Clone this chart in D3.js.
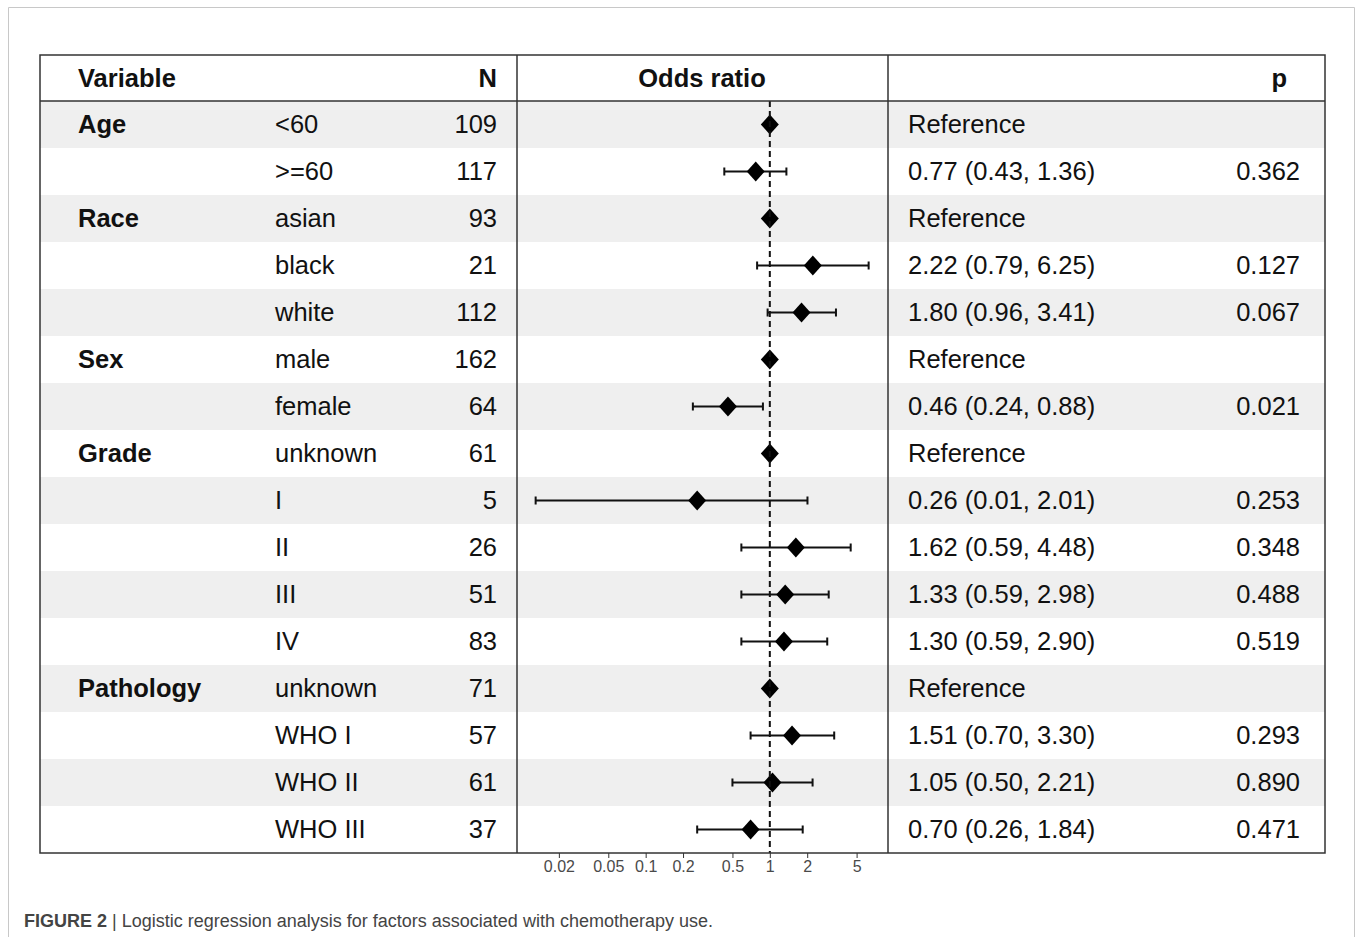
<!DOCTYPE html>
<meta charset="utf-8">
<head>
<title>Logistic regression forest plot</title>
<style>
  body { margin: 0; background: #fff; }
  svg { display: block; font-family: "Liberation Sans", Arial, Helvetica, sans-serif; }
  .cell { font-size: 25.5px; fill: #111; }
  .head { font-size: 25.5px; font-weight: bold; fill: #111; }
  .tick text { font-size: 16px; fill: #4a4a4a; }
</style>
</head>
<body>
<script src="https://cdn.jsdelivr.net/npm/d3@7"></script>
<script>

// table data, one entry per row
var variable = ["Age", "", "Race", "", "", "Sex", "", "Grade", "", "", "", "", "Pathology", "", "", ""];
var level = ["<60", ">=60", "asian", "black", "white", "male", "female", "unknown", "I", "II", "III", "IV", "unknown", "WHO I", "WHO II", "WHO III"];
var nObs = [109, 117, 93, 21, 112, 162, 64, 61, 5, 26, 51, 83, 71, 57, 61, 37];
var oddsRatio = [1, 0.77, 1, 2.22, 1.80, 1, 0.46, 1, 0.26, 1.62, 1.33, 1.30, 1, 1.51, 1.05, 0.70];
var ciLow = [null, 0.43, null, 0.79, 0.96, null, 0.24, null, 0.013, 0.59, 0.59, 0.59, null, 0.70, 0.50, 0.26];
var ciHigh = [null, 1.36, null, 6.25, 3.41, null, 0.88, null, 2.01, 4.48, 2.98, 2.90, null, 3.30, 2.21, 1.84];
var pValue = [null, "0.362", null, "0.127", "0.067", null, "0.021", null, "0.253", "0.348", "0.488", "0.519", null, "0.293", "0.890", "0.471"];
var tickValues = [0.02, 0.05, 0.1, 0.2, 0.5, 1, 2, 5];

var W = 1357, H = 937;
var box = {left: 40, right: 1325, top: 55, head: 101, bottom: 853};
var plotL = 517, plotR = 888;

var svg = d3.select("body").append("svg")
    .attr("width", W).attr("height", H);

// page frame
svg.append("path")
    .attr("d", "M8.5," + H + "V7.5H1354.5V" + H)
    .attr("fill", "none").attr("stroke", "#c8c8c8").attr("stroke-width", 1);

var rows = d3.range(level.length);
var y = d3.scaleBand().domain(rows).range([box.head, box.bottom]);
var x = d3.scaleLog().domain([0.0092, 8.95]).range([plotL, plotR]);

// zebra shading
svg.selectAll("rect.band")
    .data(rows.filter(function(i) { return i % 2 == 0; }))
  .enter().append("rect")
    .attr("class", "band")
    .attr("x", box.left).attr("width", box.right - box.left)
    .attr("y", function(i) { return y(i); })
    .attr("height", y.bandwidth())
    .attr("fill", "#efefef");

// header
var head = svg.append("g").attr("class", "head");
head.append("text").attr("x", 78).attr("y", 78).attr("dy", "0.35em").text("Variable");
head.append("text").attr("x", 497).attr("y", 78).attr("dy", "0.35em").attr("text-anchor", "end").text("N");
head.append("text").attr("x", 702).attr("y", 78).attr("dy", "0.35em").attr("text-anchor", "middle").text("Odds ratio");
head.append("text").attr("x", 1287).attr("y", 78).attr("dy", "0.35em").attr("text-anchor", "end").text("p");

// text columns
var row = svg.selectAll("g.row")
    .data(rows)
  .enter().append("g")
    .attr("class", "row")
    .attr("transform", function(i) { return "translate(0," + (y(i) + y.bandwidth() / 2) + ")"; });

row.append("text").attr("class", "head").attr("x", 78).attr("dy", "0.35em")
    .text(function(i) { return variable[i]; });
row.append("text").attr("class", "cell").attr("x", 275).attr("dy", "0.35em")
    .text(function(i) { return level[i]; });
row.append("text").attr("class", "cell").attr("x", 497).attr("dy", "0.35em").attr("text-anchor", "end")
    .text(function(i) { return nObs[i]; });
row.append("text").attr("class", "cell").attr("x", 908).attr("dy", "0.35em")
    .text(function(i) {
      if (ciLow[i] == null) return "Reference";
      return oddsRatio[i].toFixed(2) + " (" + ciLow[i].toFixed(2) + ", " + ciHigh[i].toFixed(2) + ")";
    });
row.append("text").attr("class", "cell").attr("x", 1300).attr("dy", "0.35em").attr("text-anchor", "end")
    .text(function(i) { return pValue[i] || ""; });

// reference line at 1
svg.append("line")
    .attr("x1", x(1)).attr("x2", x(1))
    .attr("y1", box.head).attr("y2", box.bottom)
    .attr("stroke", "#111").attr("stroke-width", 2)
    .attr("stroke-dasharray", "6,4");

// confidence intervals
var ci = row.filter(function(i) { return ciLow[i] != null; });
ci.append("line")
    .attr("x1", function(i) { return x(ciLow[i]); })
    .attr("x2", function(i) { return x(ciHigh[i]); })
    .attr("stroke", "#111").attr("stroke-width", 2);
ci.append("path")
    .attr("d", function(i) {
      return "M" + x(ciLow[i]) + ",-4V4M" + x(ciHigh[i]) + ",-4V4";
    })
    .attr("stroke", "#111").attr("stroke-width", 2).attr("fill", "none");

// point estimates
row.append("path")
    .attr("d", "M0,-10L9,0L0,10L-9,0Z")
    .attr("transform", function(i) { return "translate(" + x(oddsRatio[i]) + ",0)"; })
    .attr("fill", "#000");

// borders
var lines = svg.append("g").attr("stroke", "#333").attr("stroke-width", 1.5).attr("fill", "none");
lines.append("rect")
    .attr("x", box.left).attr("y", box.top)
    .attr("width", box.right - box.left).attr("height", box.bottom - box.top);
lines.append("line").attr("x1", box.left).attr("x2", box.right).attr("y1", box.head).attr("y2", box.head);
lines.append("line").attr("x1", plotL).attr("x2", plotL).attr("y1", box.top).attr("y2", box.bottom);
lines.append("line").attr("x1", plotR).attr("x2", plotR).attr("y1", box.top).attr("y2", box.bottom);

// x axis
var axis = svg.append("g")
    .attr("transform", "translate(0," + box.bottom + ")")
    .call(d3.axisBottom(x).tickValues(tickValues).tickFormat(d3.format("~g")).tickSize(5).tickPadding(3));
axis.select(".domain").remove();
axis.selectAll(".tick line").attr("stroke", "#333");

// caption
var cap = svg.append("text")
    .attr("x", 24).attr("y", 927)
    .attr("font-size", 18).attr("fill", "#444");
cap.append("tspan").attr("font-weight", "bold").text("FIGURE 2");
cap.append("tspan").text(" | Logistic regression analysis for factors associated with chemotherapy use.");

</script>
</body>
